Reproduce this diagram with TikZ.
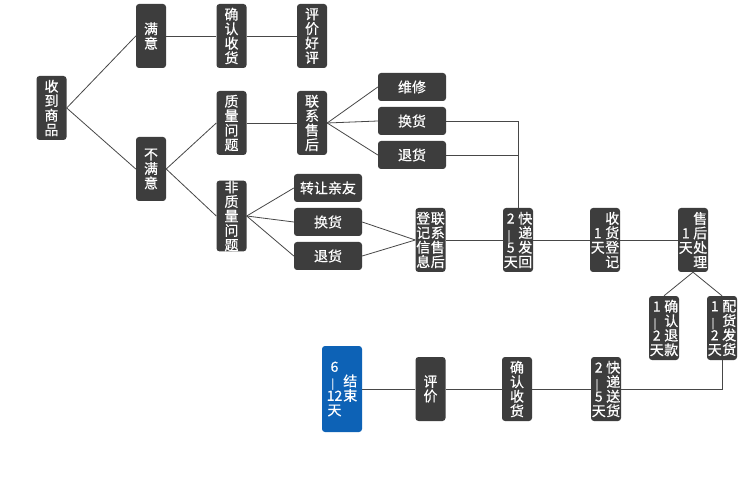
\documentclass[tikz,border=0pt]{standalone}
\usepackage{fontspec}
\newfontfamily\cjk{Noto Sans CJK SC}[FakeBold=0.6]
\definecolor{boxgray}{HTML}{3D3D3D}
\definecolor{boxblue}{HTML}{0D62B6}
\definecolor{linegray}{HTML}{474747}
\newcommand\colstack[1]{\vbox{\baselineskip=14.5pt\lineskiplimit=-20pt\lineskip=0pt\halign{\hfil##\hfil\cr#1\crcr}}}
\newcommand\vdsh{\rotatebox[origin=c]{90}{—}}
\newcommand\twocol[2]{\hbox{\colstack{#1}\hspace{0.5pt}\colstack{#2}}}
\tikzset{
  vbx/.style={fill=boxgray, rounded corners=3pt, text=white, font=\cjk\fontsize{14}{14.5}\selectfont,
    inner sep=0pt, minimum width=30pt, minimum height=64pt},
  hbx/.style={vbx, minimum width=68pt, minimum height=28pt},
  bluebx/.style={vbx, fill=boxblue, minimum width=40pt, minimum height=86pt},
  ln/.style={draw=linegray, line width=0.8pt}
}
\begin{document}
\begin{tikzpicture}[x=1pt,y=-1pt]
\fill[white] (0,0) rectangle (750,489);
\useasboundingbox (0,0) rectangle (750,489);
% column 1-4
\node[vbx] (rcv) at (51.5,108) {\colstack{收\cr 到\cr 商\cr 品}};
\node[vbx] (sat) at (151,36) {\colstack{满\cr 意}};
\node[vbx] (unsat) at (151,169) {\colstack{不\cr 满\cr 意}};
\node[vbx] (conf1) at (231.5,36) {\colstack{确\cr 认\cr 收\cr 货}};
\node[vbx] (good) at (312,36) {\colstack{评\cr 价\cr 好\cr 评}};
\node[vbx] (qual) at (231.5,123) {\colstack{质\cr 量\cr 问\cr 题}};
\node[vbx] (svc) at (312,123) {\colstack{联\cr 系\cr 售\cr 后}};
\node[vbx] (nonq) at (231.5,216) {\colstack{非\cr 质\cr 量\cr 问\cr 题}};
% horizontal boxes
\node[hbx] (gift) at (328,188) {转让亲友};
\node[hbx] (exch2) at (328,222) {换货};
\node[hbx] (ret2) at (328,256) {退货};
\node[hbx] (fix) at (412,87) {维修};
\node[hbx] (exch1) at (412,121) {换货};
\node[hbx] (ret1) at (412,155) {退货};
% middle row
\node[vbx] (reg) at (430.5,240) {\twocol{登\cr 记\cr 信\cr 息}{联\cr 系\cr 售\cr 后}};
\node[vbx] (back) at (518,240) {\twocol{2\cr \vdsh\cr 5\cr 天}{快\cr 递\cr 发\cr 回}};
\node[vbx] (recv) at (605,240) {\twocol{{}\cr 1\cr 天\cr {}}{收\cr 货\cr 登\cr 记}};
\node[vbx] (proc) at (693,240) {\twocol{{}\cr 1\cr 天\cr {}}{售\cr 后\cr 处\cr 理}};
\node[vbx] (refund) at (664,328) {\twocol{1\cr \vdsh\cr 2\cr 天}{确\cr 认\cr 退\cr 款}};
\node[vbx] (ship) at (722,328) {\twocol{1\cr \vdsh\cr 2\cr 天}{配\cr 货\cr 发\cr 货}};
% bottom row
\node[vbx] (deliv) at (606,389) {\twocol{2\cr \vdsh\cr 5\cr 天}{快\cr 递\cr 送\cr 货}};
\node[vbx] (conf2) at (517,389) {\colstack{确\cr 认\cr 收\cr 货}};
\node[vbx] (eval) at (430.5,389) {\colstack{评\cr 价}};
\node[bluebx] (end) at (342,389) {\hbox{\colstack{6\cr \vdsh\cr 12\cr 天}\hspace{1pt}\colstack{{}\cr 结\cr 束\cr {}}}};
% connectors
\draw[ln] (rcv.east) -- (sat.west);
\draw[ln] (rcv.east) -- (unsat.west);
\draw[ln] (sat.east) -- (conf1.west);
\draw[ln] (conf1.east) -- (good.west);
\draw[ln] (unsat.east) -- (qual.west);
\draw[ln] (unsat.east) -- (nonq.west);
\draw[ln] (qual.east) -- (svc.west);
\draw[ln] (svc.east) -- (fix.west);
\draw[ln] (svc.east) -- (exch1.west);
\draw[ln] (svc.east) -- (ret1.west);
\draw[ln] (nonq.east) -- (gift.west);
\draw[ln] (nonq.east) -- (exch2.west);
\draw[ln] (nonq.east) -- (ret2.west);
\draw[ln] (exch2.east) -- (reg.west);
\draw[ln] (ret2.east) -- (reg.west);
\draw[ln] (exch1.east) -| (back.north);
\draw[ln] (ret1.east) -- (ret1.east -| back.north);
\draw[ln] (reg.east) -- (back.west);
\draw[ln] (back.east) -- (recv.west);
\draw[ln] (recv.east) -- (proc.west);
\draw[ln] (proc.south) -- (refund.north);
\draw[ln] (proc.south) -- (ship.north);
\draw[ln] (ship.south) |- (deliv.east);
\draw[ln] (deliv.west) -- (conf2.east);
\draw[ln] (conf2.west) -- (eval.east);
\draw[ln] (eval.west) -- (end.east);
\end{tikzpicture}
\end{document}
